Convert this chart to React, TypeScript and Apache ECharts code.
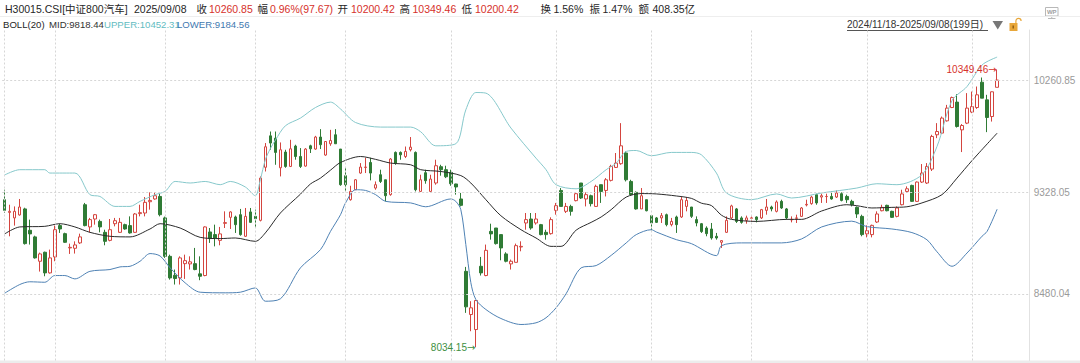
import React, { useEffect, useRef } from "react";
import * as echarts from "echarts";

// ---------- data ----------
const TICKER = "H30015.CSI[中证800汽车]";
const LAST_DATE = "2025/09/08";
const START_DATE = "2024/11/18";
const TURNOVER = "1.56%";
const AMOUNT = "408.35亿";

const opens = [
  9264, 9158, 9112, 9137, 9187, 9009, 8954, 8751, 8826, 8654,
  8787, 9048, 8981, 8862, 8859, 8904, 9222, 9037, 9103, 9083,
  8992, 8925, 9064, 8992, 9056, 9048, 8992, 9148, 9153, 9247,
  9270, 9291, 9112, 8792, 8634, 8612, 8731, 8729, 8731, 8646,
  8632, 8995, 8973, 8925, 9067, 9117, 9120, 9139, 8959, 9162,
  9125, 9092, 9534, 9796, 9777, 9530, 9661, 9541, 9711, 9624,
  9544, 9713, 9686, 9786, 9636, 9730, 9805, 9686, 9464, 9264,
  9347, 9486, 9533, 9574, 9361, 9472, 9430, 9306, 9658, 9658,
  9624, 9680, 9658, 9333, 9489, 9333, 9403, 9539, 9514, 9491,
  9395, 9270, 8667, 8307, 8182, 8709, 8632, 9000, 9028, 8973,
  8812, 8729, 8742, 8870, 9070, 9103, 9070, 9056, 8992, 8981,
  9175, 9341, 9167, 9208, 9256, 9403, 9270, 9297, 9208, 9389,
  9341, 9425, 9533, 9564, 9653, 9416, 9325, 9187, 9264, 9131,
  9112, 9112, 9139, 9056, 9120, 9120, 9208, 9203, 9098, 9064,
  9028, 9020, 8959, 8909, 8992, 9112, 9187, 9112, 9092, 9109,
  9120, 9112, 9175, 9203, 9167, 9250, 9187, 9095, 9109, 9125,
  9220, 9231, 9306, 9286, 9290, 9291, 9286, 9314, 9291, 9250,
  9200, 9125, 8979, 8973, 9078, 9172, 9217, 9167, 9125, 9222,
  9333, 9383, 9250, 9411, 9403, 9519, 9805, 9819, 9921, 10032,
  10077, 9846, 9902, 9994, 10032, 10243, 10096, 9957, 10200.42,
];
const closes = [
  9175, 9167, 9167, 9203, 8898, 8979, 8779, 8812, 8654, 8779,
  9014, 9020, 8909, 8867, 8887, 8954, 9048, 9098, 9139, 9037,
  8917, 9014, 9089, 9075, 9020, 8987, 9145, 9156, 9242, 9258,
  9297, 9139, 8792, 8612, 8607, 8779, 8756, 8746, 8682, 8626,
  9037, 8940, 8945, 8979, 9073, 9162, 9056, 8973, 9125, 9075,
  9106, 9444, 9705, 9736, 9658, 9680, 9541, 9688, 9624, 9541,
  9686, 9688, 9786, 9722, 9749, 9757, 9730, 9389, 9389, 9333,
  9430, 9536, 9536, 9486, 9389, 9416, 9297, 9603, 9569, 9638,
  9666, 9702, 9347, 9430, 9422, 9436, 9547, 9514, 9455, 9397,
  9370, 9217, 8371, 8363, 8424, 8654, 8842, 8979, 8898, 8862,
  8751, 8751, 8881, 8875, 9098, 9028, 9103, 8973, 8973, 9098,
  9214, 9208, 9208, 9167, 9314, 9278, 9306, 9231, 9375, 9333,
  9430, 9541, 9569, 9713, 9430, 9306, 9187, 9297, 9172, 9070,
  9075, 9131, 9056, 9083, 9056, 9264, 9258, 9125, 9070, 8998,
  8981, 8945, 8945, 8923, 9092, 9212, 9083, 9075, 9112, 9112,
  9098, 9181, 9203, 9187, 9245, 9195, 9112, 9100, 9112, 9195,
  9225, 9286, 9237, 9297, 9291, 9270, 9320, 9258, 9264, 9222,
  9145, 8973, 9006, 9050, 9145, 9200, 9172, 9117, 9195, 9312,
  9355, 9250, 9411, 9486, 9541, 9791, 9832, 9944, 10027, 10115,
  9874, 9882, 10027, 10040, 10138, 10110, 9949, 10163.18, 10260.85,
];
const lows = [
  9153, 8959, 9048, 9131, 8890, 8890, 8773, 8665, 8626, 8648,
  8751, 8987, 8904, 8812, 8815, 8895, 9042, 8992, 9056, 8992,
  8884, 8917, 9042, 8987, 9014, 8981, 8989, 9125, 9125, 9181,
  9264, 9125, 8779, 8598, 8557, 8557, 8604, 8682, 8676, 8593,
  8626, 8904, 8875, 8884, 9028, 9020, 8987, 8964, 8954, 9070,
  9028, 9083, 9499, 9680, 9555, 9458, 9530, 9536, 9597, 9528,
  9539, 9653, 9680, 9686, 9630, 9713, 9730, 9380, 9333, 9256,
  9347, 9480, 9486, 9425, 9347, 9403, 9250, 9297, 9555, 9597,
  9611, 9666, 9333, 9331, 9397, 9331, 9389, 9464, 9444, 9380,
  9306, 9208, 8321, 8168, 8034.15, 8632, 8626, 8931, 8890, 8759,
  8742, 8682, 8742, 8834, 9014, 9014, 9056, 8967, 8931, 8973,
  9139, 9208, 9153, 9131, 9250, 9270, 9208, 9208, 9203, 9237,
  9291, 9416, 9528, 9555, 9416, 9297, 9181, 9187, 9167, 9009,
  9070, 9070, 9042, 9042, 8987, 9112, 9167, 9112, 9042, 8987,
  8959, 8931, 8931, 8862, 8987, 9103, 9070, 9064, 9064, 9083,
  9075, 9103, 9139, 9167, 9158, 9187, 9098, 9075, 9070, 9120,
  9208, 9222, 9222, 9237, 9237, 9264, 9278, 9250, 9237, 9208,
  9112, 8959, 8950, 8950, 9070, 9167, 9167, 9112, 9117, 9217,
  9320, 9245, 9245, 9403, 9395, 9503, 9777, 9811, 9915, 10027,
  9865, 9661, 9894, 9985, 10021, 10110, 9827, 9915, 10200.42,
];
const highs = [
  9347, 9222, 9208, 9270, 9197, 9098, 8964, 8823, 8831, 8848,
  9048, 9064, 8989, 8898, 8917, 8981, 9237, 9112, 9145, 9098,
  9014, 9103, 9112, 9112, 9064, 9125, 9153, 9222, 9286, 9325,
  9325, 9314, 9123, 8806, 8682, 8792, 8806, 8792, 8862, 8792,
  9042, 9028, 9056, 9037, 9167, 9167, 9131, 9187, 9195, 9195,
  9181, 9458, 9736, 9832, 9832, 9741, 9680, 9763, 9722, 9694,
  9694, 9722, 9796, 9852, 9752, 9846, 9852, 9686, 9528, 9380,
  9436, 9569, 9613, 9613, 9416, 9514, 9430, 9611, 9666, 9666,
  9707, 9786, 9666, 9472, 9514, 9472, 9597, 9555, 9547, 9514,
  9397, 9320, 8704, 8418, 8424, 8787, 8890, 9064, 9028, 8973,
  8826, 8765, 8898, 8917, 9153, 9153, 9153, 9062, 9014, 9117,
  9237, 9361, 9237, 9222, 9320, 9403, 9325, 9306, 9389, 9389,
  9444, 9555, 9653, 9902, 9666, 9430, 9333, 9361, 9264, 9131,
  9120, 9153, 9148, 9112, 9131, 9286, 9286, 9203, 9125, 9070,
  9042, 9070, 8987, 8925, 9125, 9222, 9195, 9125, 9131, 9125,
  9125, 9187, 9270, 9214, 9258, 9264, 9195, 9125, 9139, 9203,
  9264, 9297, 9314, 9314, 9314, 9333, 9341, 9325, 9306, 9264,
  9208, 9139, 9050, 9056, 9167, 9222, 9222, 9172, 9208, 9347,
  9375, 9389, 9416, 9561, 9569, 9805, 9902, 9957, 10054, 10123,
  10143, 9894, 10152, 10165, 10207, 10282, 10138, 10165, 10349.46,
];

// BOLL(20) bands: [day index, value]
const upperBand = [
  [0, 9470], [3, 9514], [8, 9514], [9, 9486], [14, 9486], [17, 9306], [19, 9291], [22, 9208],
  [25, 9208], [27, 9250], [30, 9306], [32, 9333], [34, 9416], [37, 9403], [40, 9416], [43, 9389],
  [45, 9416], [48, 9370], [50, 9297], [51, 9430], [52, 9597], [53, 9690], [54, 9760], [56, 9880],
  [59, 9944], [62, 10032], [65, 10077], [67, 10020], [70, 9907], [75, 9869], [81, 9869], [83, 9830],
  [86, 9713], [90, 9730], [92, 10013], [94, 10157], [96, 10152], [101, 9861], [106, 9610], [108, 9514],
  [110, 9389], [114, 9355], [117, 9416], [120, 9514], [122, 9569], [124, 9666], [126, 9674], [129, 9630],
  [133, 9658], [137, 9658], [139, 9638], [142, 9486], [144, 9320], [149, 9264], [154, 9312], [157, 9278],
  [163, 9320], [170, 9361], [174, 9397], [178, 9389], [183, 9472], [186, 9707], [189, 10090], [192, 10207],
  [195, 10387], [198, 10452.31],
];
const midBand = [
  [0, 8979], [3, 9037], [8, 9042], [11, 9064], [14, 9037], [17, 8992], [21, 8959], [25, 8954],
  [29, 9020], [31, 9064], [35, 9028], [39, 8950], [43, 8940], [46, 8945], [50, 8917], [52, 8987],
  [55, 9153], [59, 9310], [61, 9395], [63, 9444], [65, 9510], [67, 9574], [71, 9624], [74, 9600],
  [77, 9569], [81, 9555], [83, 9514], [87, 9499], [91, 9465], [93, 9403], [96, 9264], [99, 9130],
  [103, 9014], [106, 8945], [109, 8875], [111, 8875], [114, 9010], [117, 9075], [119, 9120], [121, 9181],
  [124, 9286], [127, 9315], [130, 9312], [134, 9295], [137, 9275], [139, 9235], [141, 9215], [143, 9135],
  [145, 9100], [150, 9083], [156, 9100], [159, 9100], [163, 9170], [168, 9222], [170, 9214], [173, 9195],
  [177, 9200], [180, 9205], [183, 9237], [187, 9306], [190, 9444], [193, 9590], [198, 9818.44],
];
const lowerBand = [
  [0, 8485], [3, 8557], [5, 8580], [8, 8576], [10, 8632], [12, 8632], [14, 8604], [17, 8667],
  [21, 8682], [23, 8704], [25, 8709], [27, 8751], [29, 8815], [31, 8795], [33, 8696], [36, 8571],
  [39, 8493], [44, 8488], [47, 8493], [50, 8529], [52, 8418], [55, 8438], [59, 8696], [63, 8848],
  [65, 9000], [67, 9139], [68, 9237], [70, 9347], [72, 9341], [74, 9306], [76, 9250], [81, 9237],
  [84, 9205], [89, 9270], [90, 9250], [91, 9181], [92, 8890], [93, 8573], [94, 8432], [96, 8349],
  [99, 8274], [103, 8224], [106, 8238], [108, 8280], [110, 8363], [112, 8480], [115, 8696], [118, 8715],
  [121, 8800], [124, 8904], [126, 8973], [129, 9014], [130, 8995], [134, 8931], [137, 8898], [142, 8798],
  [143, 8881], [147, 8904], [155, 8904], [159, 8937], [163, 9037], [169, 9085], [172, 9040], [177, 9020],
  [181, 8990], [184, 8930], [186, 8830], [189, 8709], [192, 8820], [195, 8960], [196, 9000], [198, 9184.56],
];

const yTicks = [10260.85, 9328.05, 8480.04];
const monthStartIdx = [0, 10, 32, 50, 68, 89, 110, 129, 149, 172, 193];
const EMPTY_SLOTS = 6;

// ---------- style ----------
const FONT = "'Liberation Sans', Arial, Helvetica, 'Noto Sans CJK SC', sans-serif";
const ARROW_FONT = "'DejaVu Sans', sans-serif";
const RED = "#d6312b";
const CANDLE_RED = "#d4453f";
const GREEN = "#2f7b35";
const LABEL_GREEN = "#3d8f42";
const DARK = "#262626";
const TEAL = "#86c8cb";
const TEAL_TXT = "#63bcc1";
const BLUE = "#4f82b4";
const BLUE_TXT = "#3f79b0";

function txt(text: string, x: number, y: number, fill: string, size: number) {
  return {
    type: "text",
    x,
    y,
    silent: true,
    style: { text, fill, fontSize: size, fontFamily: FONT, verticalAlign: "middle", align: "left" },
  };
}

function buildOption() {
  const n = closes.length;
  const last = n - 1;
  const prev = closes[last - 1];
  const chg = closes[last] - prev;
  const pct = (chg / prev) * 100;
  const amp = ((highs[last] - lows[last]) / prev) * 100;

  const categories = Array.from({ length: n + EMPTY_SLOTS }, (_, i) => "d" + i);
  const candles = opens.map((o, i) => [o, closes[i], lows[i], highs[i]]);

  let hiIdx = 0;
  let loIdx = 0;
  highs.forEach((h, i) => { if (h > highs[hiIdx]) hiIdx = i; });
  lows.forEach((l, i) => { if (l < lows[loIdx]) loIdx = i; });

  const h1 = 8.5;
  const h2 = 24.5;
  const fs1 = 10.5;
  const header: any[] = [
    txt(TICKER, 5, h1, DARK, fs1),
    txt(LAST_DATE, 134, h1, DARK, fs1),
    txt("收", 196.5, h1, DARK, fs1),
    txt(closes[last].toFixed(2), 209, h1, RED, fs1),
    txt("幅", 257.5, h1, DARK, fs1),
    txt(`${pct.toFixed(2)}%(${chg.toFixed(2)})`, 270, h1, RED, fs1),
    txt("开", 337.5, h1, DARK, fs1),
    txt(opens[last].toFixed(2), 351, h1, RED, fs1),
    txt("高", 399.5, h1, DARK, fs1),
    txt(highs[last].toFixed(2), 412.5, h1, RED, fs1),
    txt("低", 461.5, h1, DARK, fs1),
    txt(lows[last].toFixed(2), 475, h1, RED, fs1),
    txt("换", 540.5, h1, DARK, fs1),
    txt(TURNOVER, 553.5, h1, DARK, fs1),
    txt("振", 589.5, h1, DARK, fs1),
    txt(`${amp.toFixed(2)}%`, 602.5, h1, DARK, fs1),
    txt("额", 638.5, h1, DARK, fs1),
    txt(AMOUNT, 652.5, h1, DARK, fs1),

    txt("BOLL(20)", 3, h2, DARK, 9.6),
    txt(`MID:${midBand[midBand.length - 1][1].toFixed(2)}`, 49, h2, "#333", 9.6),
    txt(`UPPER:${upperBand[upperBand.length - 1][1].toFixed(2)}`, 104, h2, TEAL_TXT, 9.6),
    txt(`LOWER:${lowerBand[lowerBand.length - 1][1].toFixed(2)}`, 177, h2, BLUE_TXT, 9.6),

    txt(`${START_DATE}-${LAST_DATE}(${n}日)`, 847, 24.5, "#333", 10),
    { type: "line", silent: true, shape: { x1: 847, y1: 30.5, x2: 988, y2: 30.5 }, style: { stroke: "#555", lineWidth: 1 } },
    { type: "polygon", silent: true, shape: { points: [[992.5, 21], [1003, 21], [997.75, 29.5]] }, style: { fill: "#777" } },
    // lock icon
    { type: "rect", silent: true, shape: { x: 1009.5, y: 23, width: 8, height: 8 }, style: { fill: "#e8a73a" } },
    { type: "rect", silent: true, shape: { x: 1012.5, y: 25.5, width: 1.4, height: 3 }, style: { fill: "#8a5a12" } },
    { type: "arc", silent: true, shape: { cx: 1018.5, cy: 21, r: 2.6, startAngle: Math.PI, endAngle: Math.PI * 2 }, style: { stroke: "#e8a73a", fill: "none", lineWidth: 1.2 } },
    { type: "line", silent: true, shape: { x1: 1015.9, y1: 21, x2: 1015.9, y2: 23 }, style: { stroke: "#e8a73a", lineWidth: 1.2 } },
    // WP icon
    { type: "rect", silent: true, shape: { x: 1045.5, y: 7.5, width: 12.5, height: 8.5 }, style: { fill: "#fff", stroke: "#b8b8b8", lineWidth: 1 } },
    { type: "text", silent: true, x: 1051.75, y: 11.8, style: { text: "WP", fill: "#a0a0a0", fontSize: 6, fontWeight: "bold", fontFamily: FONT, align: "center", verticalAlign: "middle" } },
    { type: "line", silent: true, shape: { x1: 1051.75, y1: 16, x2: 1051.75, y2: 18 }, style: { stroke: "#b8b8b8", lineWidth: 1 } },
    { type: "line", silent: true, shape: { x1: 1048, y1: 18.5, x2: 1055.5, y2: 18.5 }, style: { stroke: "#b8b8b8", lineWidth: 1 } },
    // separators
    { type: "line", silent: true, shape: { x1: 0, y1: 16.5, x2: 1080, y2: 16.5 }, style: { stroke: "#eeeeee", lineWidth: 1 } },
    { type: "rect", silent: true, shape: { x: 0, y: 360.5, width: 1080, height: 3 }, style: { fill: "#ececec" } },
  ];

  const gridLineData: any[] = [
    ...monthStartIdx.map((i) => ({ xAxis: i })),
    ...yTicks.map((v) => ({
      yAxis: v,
      label: { show: true, position: "end", distance: 4, formatter: v.toFixed(2), color: "#9a9a9a", fontSize: 10, fontFamily: FONT },
    })),
  ];

  const markLabel = (color: string, value: number) => ({
    show: true,
    position: "left",
    distance: 0,
    formatter: `{v|${value.toFixed(2)}}{a|→}`,
    rich: {
      v: { color, fontSize: 10, fontFamily: FONT },
      a: { color, fontSize: 10, fontFamily: ARROW_FONT },
    },
  });

  return {
    animation: false,
    backgroundColor: "#ffffff",
    textStyle: { fontFamily: FONT },
    grid: { left: 2.2, right: 50.3, top: 30, bottom: 2.5, containLabel: false },
    xAxis: {
      type: "category",
      data: categories,
      boundaryGap: true,
      axisLine: { show: false },
      axisTick: { show: false },
      axisLabel: { show: false },
      splitLine: { show: false },
    },
    yAxis: {
      type: "value",
      position: "right",
      min: 7924,
      max: 10678,
      axisLine: { show: true, lineStyle: { color: "#e2e2e2", width: 1 } },
      axisTick: { show: false },
      axisLabel: { show: false },
      splitLine: { show: false },
    },
    graphic: { elements: header },
    series: [
      {
        type: "line",
        data: [],
        silent: true,
        z: 1,
        markLine: {
          silent: true,
          animation: false,
          symbol: ["none", "none"],
          lineStyle: { color: "#d6d6d6", type: [2, 2], width: 1 },
          label: { show: false },
          emphasis: { disabled: true },
          data: gridLineData,
        },
      },
      {
        name: "K",
        type: "candlestick",
        data: candles,
        barWidth: 3,
        z: 2,
        itemStyle: {
          color: "#ffffff",
          color0: GREEN,
          borderColor: CANDLE_RED,
          borderColor0: GREEN,
          borderWidth: 1,
        },
        markPoint: {
          silent: true,
          animation: false,
          symbol: "rect",
          symbolSize: 1,
          itemStyle: { color: "rgba(0,0,0,0)" },
          data: [
            { coord: [hiIdx, highs[hiIdx]], label: markLabel(RED, highs[hiIdx]) },
            { coord: [loIdx, lows[loIdx]], label: markLabel(LABEL_GREEN, lows[loIdx]) },
          ],
        },
      },
      {
        name: "MID",
        type: "line",
        data: midBand,
        showSymbol: false,
        symbol: "none",
        smooth: 0.3,
        silent: true,
        z: 3,
        lineStyle: { color: "#2b2b2b", width: 1 },
      },
      {
        name: "UPPER",
        type: "line",
        data: upperBand,
        showSymbol: false,
        symbol: "none",
        smooth: 0.3,
        silent: true,
        z: 3,
        lineStyle: { color: TEAL, width: 1 },
      },
      {
        name: "LOWER",
        type: "line",
        data: lowerBand,
        showSymbol: false,
        symbol: "none",
        smooth: 0.3,
        silent: true,
        z: 3,
        lineStyle: { color: BLUE, width: 1 },
      },
    ],
  };
}

export default function App() {
  const ref = useRef<HTMLDivElement>(null);
  useEffect(() => {
    if (!ref.current) return;
    const chart = echarts.init(ref.current, null, { renderer: "svg" });
    chart.setOption(buildOption() as any);
    return () => chart.dispose();
  }, []);
  return (
    <div
      ref={ref}
      style={{ position: "absolute", left: 0, top: 0, width: 1080, height: 363, background: "#fff" }}
    />
  );
}
